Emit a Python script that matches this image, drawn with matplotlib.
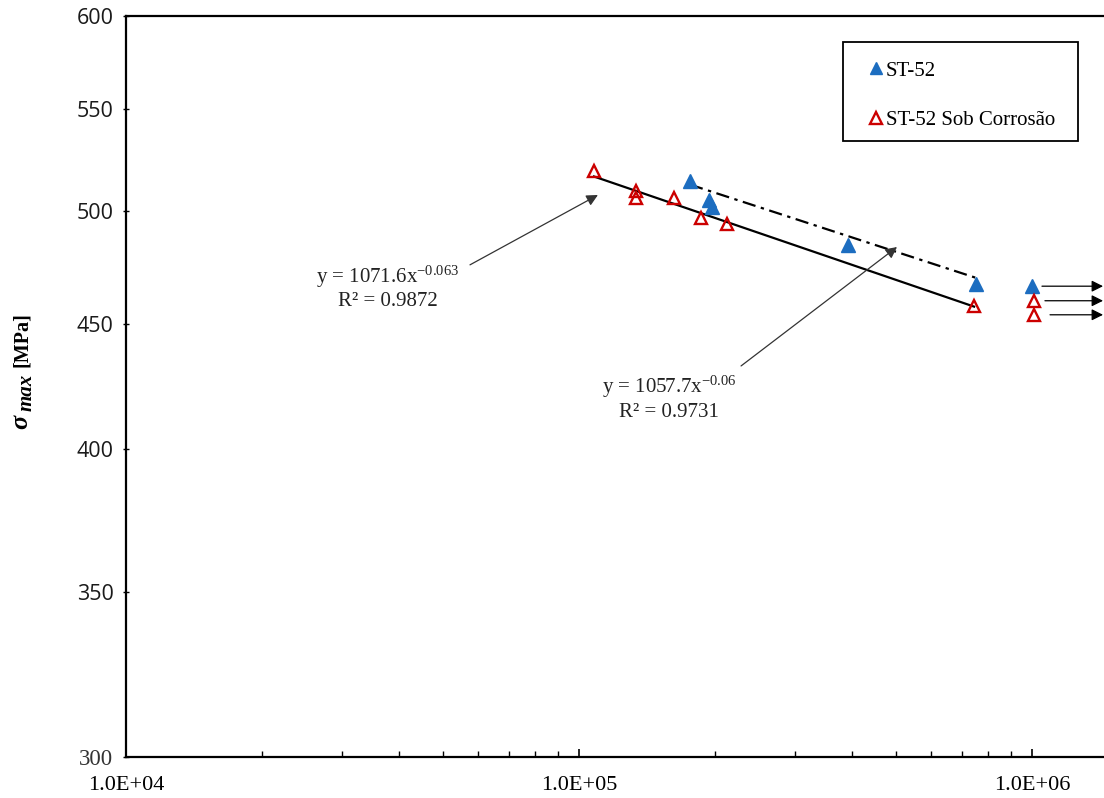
import numpy as np
import matplotlib
matplotlib.use("Agg")
import matplotlib.pyplot as plt
from matplotlib.lines import Line2D
from matplotlib.patches import Rectangle

plt.rcParams["mathtext.fontset"] = "custom"
plt.rcParams["mathtext.rm"] = "Liberation Serif"
plt.rcParams["mathtext.it"] = "Liberation Serif:italic:bold"
plt.rcParams["mathtext.bf"] = "Liberation Serif:bold"

# --- data: cycles to failure vs. maximum stress ---
st52_x = [1.758e5, 1.936e5, 1.966e5, 3.924e5, 7.52e5]
st52_y = [514.2, 505.1, 501.8, 484.3, 466.9]
st52_runout_x = [1.0e6]
st52_runout_y = [466.0]

corr_x = [1.079e5, 1.336e5, 1.336e5, 1.620e5, 1.859e5, 2.122e5, 7.45e5]
corr_y = [518.9, 509.4, 506.0, 505.9, 496.6, 493.9, 457.5]
corr_runout_x = [1.01e6, 1.01e6]
corr_runout_y = [459.7, 453.7]

# power-law fits  y = a * x^b
st52_fit = (1057.7, -0.06, 0.9731)
corr_fit = (1071.6, -0.063, 0.9872)

x_ticks = [1e4, 1e5, 1e6]
x_tick_labels = ["1.0E+04", "1.0E+05", "1.0E+06"]
y_ticks = [300, 350, 400, 450, 500, 550, 600]
y_tick_labels = ["300", "350", "400", "450", "500", "550", "600"]

blue = "#1C6DC0"
red = "#CC0000"

W, H = 1104, 798
fig = plt.figure(figsize=(W / 100, H / 100), dpi=100)
ax = fig.add_axes([126 / W, 1 - 757 / H, 1 - 126 / W, (757 - 16) / H])
ax.set_xscale("log")
ax.set_yscale("log")
ax.set_xlim(1e4, 1.442e6)
ax.set_ylim(300, 600)

# fitted curves over the range of the failed specimens
xs = np.geomspace(min(corr_x), max(corr_x), 50)
ax.plot(xs, corr_fit[0] * xs ** corr_fit[1], color="black", lw=1.6, zorder=2)
xs = np.geomspace(min(st52_x), max(st52_x), 50)
ax.plot(xs, st52_fit[0] * xs ** st52_fit[1], color="black", lw=1.6,
        ls=(0, (6, 2.5, 1.5, 2.5)), zorder=2)

# specimens
ax.plot(st52_x + st52_runout_x, st52_y + st52_runout_y, ls="none", marker="^",
        ms=10, color=blue, zorder=3)
ax.plot(corr_x + corr_runout_x, corr_y + corr_runout_y, ls="none", marker="^",
        ms=9, mfc="none", mec=red, mew=1.7, zorder=3)

# run-out arrows
arrow_kw = dict(arrowstyle="-|>", color="black", lw=0.9, mutation_scale=17,
                shrinkA=0, shrinkB=0)
for x0, y0 in zip([1.052e6], st52_runout_y):
    ax.annotate("", xy=(1.435e6, y0), xytext=(x0, y0), arrowprops=arrow_kw,
                annotation_clip=False)
for x0, y0 in zip([1.068e6, 1.096e6], corr_runout_y):
    ax.annotate("", xy=(1.435e6, y0), xytext=(x0, y0), arrowprops=arrow_kw,
                annotation_clip=False)

# fit equations with leader arrows
lead_kw = dict(arrowstyle="-|>", color="#333333", lw=0.9, mutation_scale=17,
               shrinkA=0, shrinkB=0)
ax.annotate("", xy=(1.101e5, 507.5), xytext=(5.746e4, 475.4), arrowprops=lead_kw)
ax.annotate("", xy=(5.035e5, 483.4), xytext=(2.279e5, 432.5), arrowprops=lead_kw)


def equation(fit):
    a, b, r2 = fit
    return (f"y = {a}" + r"$\mathrm{x}^{\mathrm{" + f"{b}" + r"}}$"
            + f"\nR² = {r2}")


ax.text(3.787e4, 465.5, equation(corr_fit), ha="center", va="center",
        ma="center", family="Liberation Serif", fontsize=15, color="#222222")
ax.text(1.580e5, 419.8, equation(st52_fit), ha="center", va="center",
        ma="center", family="Liberation Serif", fontsize=15, color="#222222")

# axes styling
for side in ("left", "bottom", "top"):
    ax.spines[side].set_linewidth(1.6)
    ax.spines[side].set_color("black")
ax.spines["right"].set_visible(False)

ax.set_xticks(x_ticks)
ax.set_xticklabels(x_tick_labels, family="Liberation Serif", fontsize=16)
ax.tick_params(axis="x", which="major", direction="in", length=6, width=1.2,
               pad=14, top=False)
ax.tick_params(axis="x", which="minor", direction="in", length=4, width=1.0,
               top=False)

ax.yaxis.set_minor_locator(matplotlib.ticker.NullLocator())
ax.set_yticks(y_ticks)
ylabels = ax.set_yticklabels(y_tick_labels, family="Open Sans", fontsize=15.5,
                             color="#1a1a1a")
ax.tick_params(axis="y", which="major", direction="inout", length=4, width=1.0,
               pad=7, right=False)
ylabels[0].set_family("Liberation Serif")
ylabels[0].set_fontsize(16.5)
ylabels[0].set_color("#333333")

# axis title built from pieces: large sigma, subscript, unit
fig.text(22 / W, 1 - 422 / H, r"$\sigma$", rotation=90, ha="center",
         va="center", family="Liberation Serif", fontsize=19)
fig.text(27 / W, 1 - 392 / H, "max", rotation=90, ha="center", va="center",
         family="Liberation Serif", fontstyle="italic", fontweight="bold",
         fontsize=15)
fig.text(22 / W, 1 - 340 / H, "[MPa]", rotation=90, ha="center", va="center",
         family="Liberation Serif", fontweight="bold", fontsize=14.5)

# legend: entries without frame, box drawn separately
handles = [
    Line2D([], [], ls="none", marker="^", ms=9, color=blue),
    Line2D([], [], ls="none", marker="^", ms=9, mfc="none", mec=red, mew=1.7),
]
leg = ax.legend(handles, ["ST-52", "ST-52 Sob Corrosão"],
                loc="upper left", bbox_to_anchor=(870 / W, 1 - 61 / H),
                bbox_transform=fig.transFigure, borderaxespad=0,
                prop={"family": "Liberation Serif", "size": 15},
                frameon=False, handlelength=0.6, handletextpad=0.15,
                labelspacing=1.45, borderpad=0)
fig.add_artist(Rectangle((843 / W, 1 - 141 / H), 235 / W, 99 / H,
                         transform=fig.transFigure, fill=False,
                         edgecolor="black", linewidth=1.3))

fig.savefig("out.png", dpi=100)
